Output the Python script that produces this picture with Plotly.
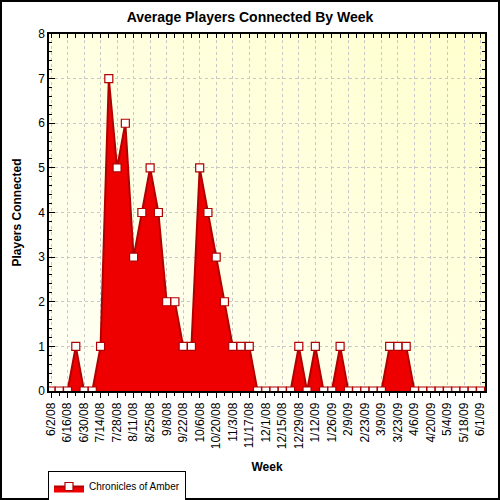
import plotly.graph_objects as go
import pandas as pd

# weekly averages, 6/2/08 .. 6/1/09
weeks = pd.date_range("2008-06-02", "2009-06-01", freq="7D")
players = [0, 0, 0, 1, 0, 0, 1, 7, 5, 6, 3, 4, 5, 4, 2, 2, 1, 1,
           5, 4, 3, 2, 1, 1, 1, 0, 0, 0, 0, 0, 1, 0, 1, 0, 0, 1,
           0, 0, 0, 0, 0, 1, 1, 1, 0, 0, 0, 0, 0, 0, 0, 0, 0]
series_name = "Chronicles of Amber"

DAY = 86400000
font = "Liberation Sans, Arial, sans-serif"

# plot area in pixels: x 49..485, y 34..391
L, R, T, B = 49, 15, 34, 109
pw, ph = 500 - L - R, 500 - T - B

bg_svg = (
    "data:image/svg+xml;utf8,"
    "<svg xmlns='http://www.w3.org/2000/svg' width='100' height='100' preserveAspectRatio='none'>"
    "<defs><linearGradient id='g' x1='0' y1='1' x2='1' y2='0'>"
    "<stop offset='0' stop-color='%23FFFFF6'/><stop offset='1' stop-color='%23FFFFCE'/>"
    "</linearGradient></defs><rect width='100' height='100' fill='url(%23g)'/></svg>"
)

fig = go.Figure()
fig.add_trace(go.Scatter(
    x=weeks, y=players, name=series_name,
    mode="lines+markers", fill="tozeroy",
    fillcolor="#EE0000",
    line=dict(color="#B00000", width=2),
    marker=dict(symbol="square", size=8, color="white",
                line=dict(color="#B00000", width=1.2)),
))
# dummy trace so the top axis (inside ticks) gets drawn
fig.add_trace(go.Scatter(x=weeks[:1], y=players[:1], xaxis="x2",
                         mode="markers", marker=dict(opacity=0),
                         showlegend=False, hoverinfo="skip"))

xr = [weeks[0] - pd.Timedelta(days=1.7), weeks[-1] + pd.Timedelta(days=3.8)]

fig.update_layout(
    width=500, height=500,
    margin=dict(l=L, r=R, t=T, b=B, autoexpand=False),
    paper_bgcolor="white",
    plot_bgcolor="#FFFFE6",
    font=dict(family=font, size=11, color="black"),
    title=dict(text="<b>Average Players Connected By Week</b>",
               x=0.5, xref="container", xanchor="center",
               y=1 - 17 / 500, yanchor="middle",
               font=dict(size=14, family=font)),
    images=[dict(source=bg_svg, xref="paper", yref="paper",
                 x=0, y=1, sizex=1, sizey=1, sizing="stretch",
                 layer="below")],
    xaxis=dict(
        type="date", range=xr,
        tick0="2008-06-02", dtick=14 * DAY, tickformat="%-m/%-d/%y",
        tickangle=-90, tickfont=dict(size=12),
        ticks="outside", ticklen=5, tickcolor="black",
        minor=dict(dtick=7 * DAY, tick0="2008-06-02", ticks="outside",
                   ticklen=3, tickcolor="black", showgrid=False),
        showline=True, linecolor="black", linewidth=1.5,
        showgrid=True, gridcolor="#C8C8C8", griddash="dot", gridwidth=1,
        zeroline=False,
        title=dict(text="<b>Week</b>", font=dict(size=12), standoff=14),
    ),
    xaxis2=dict(
        type="date", range=xr, overlaying="x", side="top",
        tick0="2008-06-02", dtick=7 * DAY, ticks="inside", ticklen=4,
        tickcolor="black", showticklabels=False, showgrid=False,
        showline=True, linecolor="black", linewidth=1.5, zeroline=False,
    ),
    yaxis=dict(
        range=[0, 8], dtick=1, tickfont=dict(size=12),
        ticks="inside", ticklen=6, tickcolor="black",
        minor=dict(dtick=0.2, ticks="inside", ticklen=3, tickcolor="black",
                   showgrid=False),
        showline=True, linecolor="black", linewidth=1.5, mirror="ticks",
        showgrid=True, gridcolor="#C8C8C8", griddash="dot", gridwidth=1,
        zeroline=False,
        title=dict(text="<b>Players Connected</b>", font=dict(size=12),
                   standoff=14),
    ),
    showlegend=True,
    legend=dict(x=-1 / pw, y=(391 - 471) / ph, xanchor="left", yanchor="top",
                orientation="h", bgcolor="white", bordercolor="black",
                borderwidth=1, font=dict(size=10), itemwidth=30,
                tracegroupgap=0),
    shapes=[dict(type="rect", xref="paper", yref="paper",
                 x0=-(L - 1) / pw, x1=(499 - L) / pw,
                 y0=(391 - 499) / ph, y1=(391 - 1) / ph,
                 line=dict(color="black", width=2), layer="above")],
)

fig.write_html("out.html", config={"displayModeBar": False},
               post_script="document.body.style.margin='0';")
